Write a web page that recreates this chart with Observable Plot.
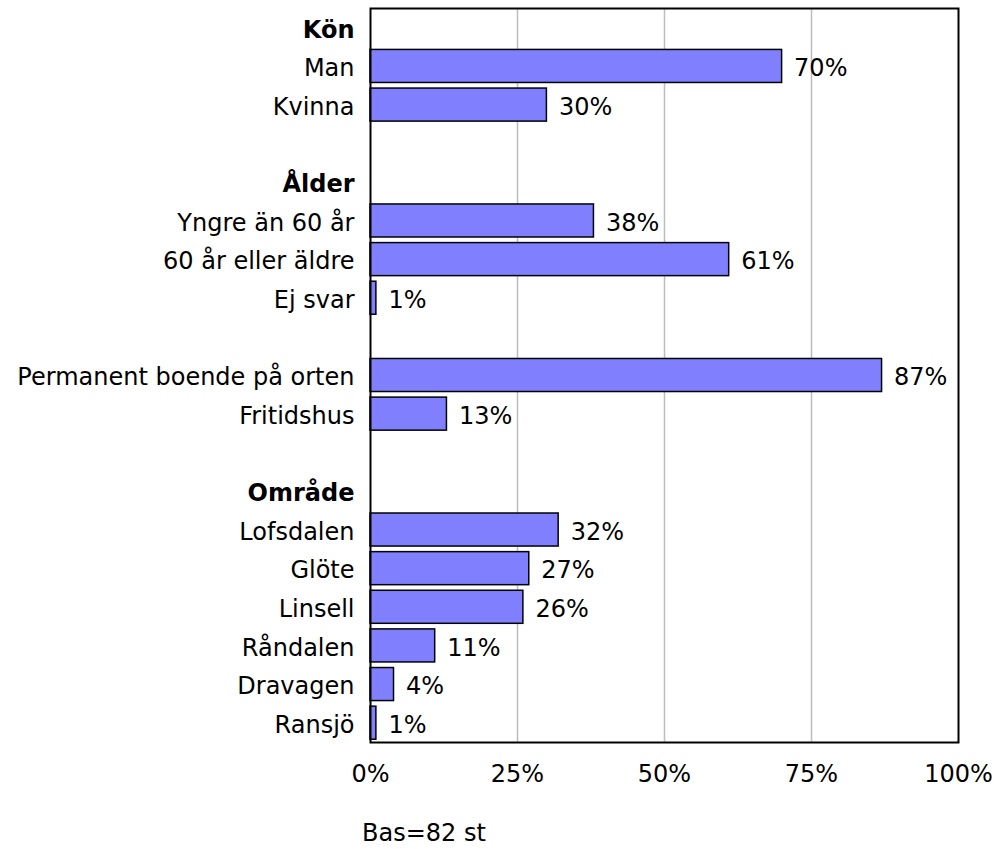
<!DOCTYPE html>
<html>
<head>
<meta charset="utf-8">
<script src="https://cdn.jsdelivr.net/npm/d3@7"></script>
<script src="https://cdn.jsdelivr.net/npm/@observablehq/plot@0.6"></script>
<style>
  body { margin: 0; background: #fff; font-family: "DejaVu Sans", Verdana, sans-serif; }
  #caption { font-size: 24px; line-height: 28px; margin-top: 19px; padding-left: 362px; color: #000; }
</style>
</head>
<body>
<div id="chart"></div>
<div id="caption">Bas=82 st</div>
<script>
// Row labels (empty strings are spacer rows)
const labels = ["Kön","Man","Kvinna","","Ålder","Yngre än 60 år","60 år eller äldre","Ej svar","","Permanent boende på orten","Fritidshus","","Område","Lofsdalen","Glöte","Linsell","Råndalen","Dravagen","Ransjö"];
// Percentages (null = header/spacer row)
const values = [null,70,30,null,null,38,61,1,null,87,13,null,null,32,27,26,11,4,1];
// Which rows are group headers
const headers = ["Kön","Ålder","Område"];
const xTicks = [0,25,50,75,100];
const caption = "Bas=82 st";

const rows = labels.map((label, i) => ({i, label, value: values[i], header: headers.includes(label)}));
const bars = rows.filter(d => d.value != null);
const normalLabels = rows.filter(d => !d.header && d.label !== "");
const headerLabels = rows.filter(d => d.header);

const chart = Plot.plot({
  width: 997,
  height: 800,
  marginLeft: 370,
  marginRight: 39,
  marginTop: 8,
  marginBottom: 58,
  style: {fontFamily: "DejaVu Sans, Verdana, sans-serif", fontSize: "24px", color: "#000", background: "#fff"},
  x: {domain: [0, 100]},
  y: {type: "band", domain: rows.map(d => d.i), paddingInner: 0.145, paddingOuter: 0.0725, round: false, axis: null},
  marks: [
    Plot.gridX([25, 50, 75], {stroke: "#bdbdbd", strokeOpacity: 1, strokeWidth: 1.5}),
    Plot.barX(bars, {x: "value", y: "i", fill: "#8080FF", stroke: "#000", strokeWidth: 1.5}),
    Plot.text(bars, {x: "value", y: "i", text: d => d.value + "%", textAnchor: "start", dx: 12, dy: 2, fontSize: 24, fill: "#000"}),
    Plot.text(normalLabels, {y: "i", text: "label", frameAnchor: "left", textAnchor: "end", dx: -16, dy: 2, fontSize: 24, fill: "#000"}),
    Plot.text(headerLabels, {y: "i", text: "label", frameAnchor: "left", textAnchor: "end", dx: -16, dy: 2, fontSize: 24, fontWeight: "bold", fill: "#000"}),
    Plot.axisX({ticks: xTicks, tickFormat: d => d + "%", tickSize: 0, tickPadding: 22, fontSize: 24, label: null, fill: "#000"}),
    Plot.frame({stroke: "#000", strokeWidth: 2})
  ]
});
document.getElementById("chart").appendChild(chart);
document.getElementById("caption").textContent = caption;
</script>
</body>
</html>
